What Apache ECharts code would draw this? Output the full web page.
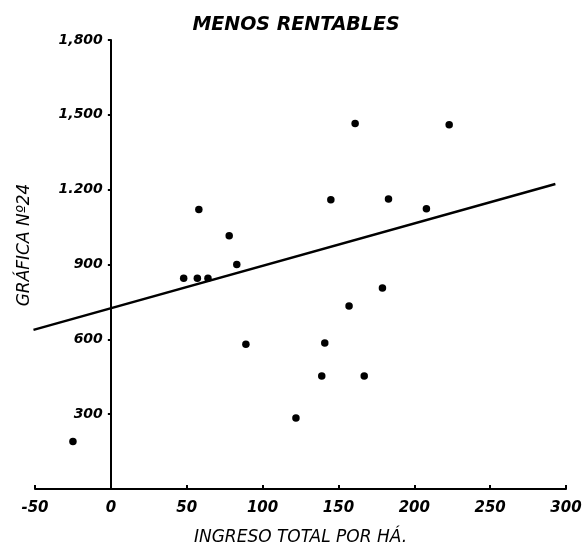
<!DOCTYPE html>
<html>
<head>
<meta charset="utf-8">
<script src="https://cdn.jsdelivr.net/npm/echarts@6/dist/echarts.min.js"></script>
<style>
html,body{margin:0;padding:0;background:#fff;}
#chart{width:583px;height:549px;}
</style>
</head>
<body>
<div id="chart"></div>
<script>
// ---- data ----
const chartTitle = "MENOS RENTABLES";
const xAxisName = "INGRESO TOTAL POR HÁ.";
const yAxisName = "GRÁFICA Nº24";
const xTickValues = [-50, 0, 50, 100, 150, 200, 250, 300];
const xTickLabels = ["-50", "0", "50", "100", "150", "200", "250", "300"];
const yTickValues = [0, 300, 600, 900, 1200, 1500, 1800];
const yTickLabels = ["", "300", "600", "900", "1.200", "1,500", "1,800"];
const pointsX = [-25, 58, 78, 83, 48, 57, 64, 89, 145, 161, 183, 208, 223, 157, 179, 141, 139, 167, 122];
const pointsY = [190, 1120, 1015, 900, 845, 845, 845, 580, 1160, 1465, 1163, 1123, 1460, 734, 806, 585, 453, 453, 285];
const lineX = [-51, 293];
const lineY = [638, 1223];

const font = "DejaVu Sans";
const scatterData = pointsX.map((x, i) => [x, pointsY[i]]);
const lineData = lineX.map((x, i) => [x, lineY[i]]);

const gridLeft = 35, gridRight = 17, W = 583;
const xMin = -50, xMax = 300;
// shift the y axis so it sits at x = 0
const yAxisOffset = -((0 - xMin) / (xMax - xMin)) * (W - gridLeft - gridRight);

const chart = echarts.init(document.getElementById('chart'), null, {renderer: 'canvas'});
chart.setOption({
  backgroundColor: '#ffffff',
  animation: false,
  title: {
    text: chartTitle,
    left: 291, top: 11, textAlign: 'center',
    textStyle: {fontFamily: font, fontSize: 19, fontWeight: 'bold', fontStyle: 'italic', color: '#000'}
  },
  grid: {left: gridLeft, right: gridRight, top: 40, bottom: 60, containLabel: false, outerBoundsMode: 'none'},
  xAxis: {
    type: 'value', min: xMin, max: xMax, interval: 50,
    name: xAxisName, nameLocation: 'middle', nameGap: 40,
    nameTextStyle: {fontFamily: font, fontSize: 17, fontStyle: 'italic', color: '#000'},
    splitLine: {show: false},
    axisLine: {show: true, onZero: false, lineStyle: {color: '#000', width: 2}},
    axisTick: {show: true, length: 4, inside: true, lineStyle: {color: '#000', width: 2}},
    axisLabel: {
      margin: 12, fontFamily: font, fontSize: 15, fontWeight: 'bold', fontStyle: 'italic', color: '#000',
      formatter: v => { const i = xTickValues.indexOf(v); return i >= 0 ? xTickLabels[i] : ''; }
    }
  },
  yAxis: {
    type: 'value', min: 0, max: 1800, interval: 300,
    position: 'left', offset: yAxisOffset,
    splitLine: {show: false},
    axisLine: {show: true, onZero: false, lineStyle: {color: '#000', width: 2}},
    axisTick: {show: true, length: 3, lineStyle: {color: '#000', width: 2}},
    axisLabel: {
      margin: 8, fontFamily: font, fontSize: 14, fontWeight: 'bold', fontStyle: 'italic', color: '#000',
      formatter: v => { const i = yTickValues.indexOf(v); return i >= 0 ? yTickLabels[i] : ''; }
    }
  },
  graphic: [{
    type: 'text', x: 25, y: 245, rotation: Math.PI / 2,
    style: {text: yAxisName, fontFamily: font, fontSize: 17, fontStyle: 'italic', fill: '#000',
            textAlign: 'center', textVerticalAlign: 'middle'}
  }],
  series: [
    {
      type: 'line', data: lineData, symbol: 'none',
      lineStyle: {color: '#000', width: 2.5}, z: 2
    },
    {
      type: 'scatter', data: scatterData, symbol: 'circle', symbolSize: 7.5,
      itemStyle: {color: '#000', opacity: 1}, z: 3
    }
  ]
});
</script>
</body>
</html>
